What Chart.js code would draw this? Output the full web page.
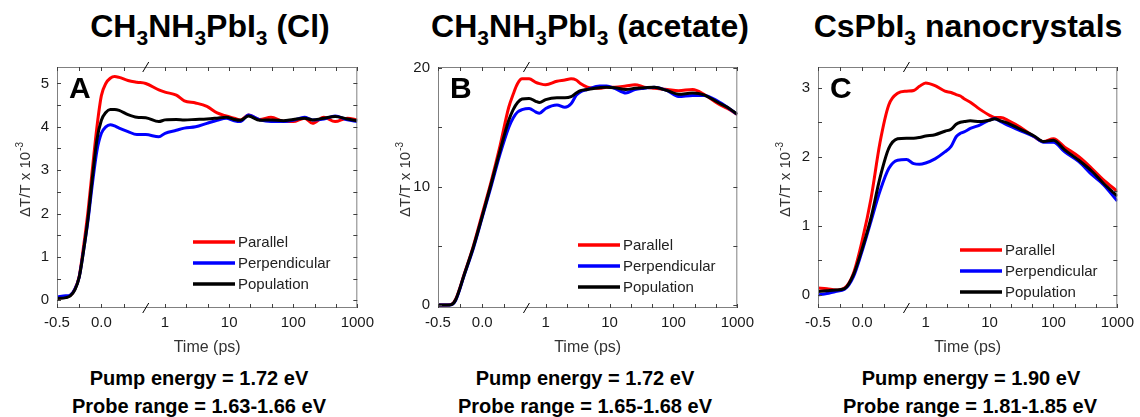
<!DOCTYPE html>
<html>
<head>
<meta charset="utf-8">
<script src="https://cdn.jsdelivr.net/npm/chart.js@4.4.1/dist/chart.umd.min.js"></script>
<style>
  body { margin: 0; background: #fff; width: 1140px; height: 417px; position: relative; overflow: hidden;
         font-family: "Liberation Sans", Arial, sans-serif; }
  .panel { position: absolute; top: 50px; }
  .title { position: absolute; top: 10px; font-weight: bold; font-size: 32px; line-height: 32px; color: #000;
           white-space: nowrap; transform: translateX(-50%); }
  .title sub { font-size: 21px; vertical-align: -8px; line-height: 0; }
  .note { position: absolute; font-weight: bold; font-size: 20px; line-height: 22px; color: #000;
          white-space: nowrap; transform: translateX(-50%); }
</style>
</head>
<body>

<div class="title" style="left:210px">CH<sub>3</sub>NH<sub>3</sub>PbI<sub>3</sub> (Cl)</div>
<div class="title" style="left:590px">CH<sub>3</sub>NH<sub>3</sub>PbI<sub>3</sub> (acetate)</div>
<div class="title" style="left:968px">CsPbI<sub>3</sub> nanocrystals</div>

<canvas id="chartA" class="panel" style="left:0px" width="380" height="310"></canvas>
<canvas id="chartB" class="panel" style="left:380px" width="380" height="310"></canvas>
<canvas id="chartC" class="panel" style="left:760px" width="380" height="310"></canvas>

<div class="note" style="left:199px;top:367px">Pump energy = 1.72 eV</div>
<div class="note" style="left:199px;top:395px">Probe range = 1.63-1.66 eV</div>
<div class="note" style="left:585px;top:367px">Pump energy = 1.72 eV</div>
<div class="note" style="left:585px;top:395px">Probe range = 1.65-1.68 eV</div>
<div class="note" style="left:971px;top:367px">Pump energy = 1.90 eV</div>
<div class="note" style="left:970px;top:395px">Probe range = 1.81-1.85 eV</div>

<script>
// legenda e cores das series
const seriesLabels = ['Parallel', 'Perpendicular', 'Population'];
const seriesColors = ['#ff0000', '#0000ff', '#000000'];
const yLabelMain = 'ΔT/T x 10';
const yLabelSup = '-3';

// eixo x: linear ate 0.5 ps, depois log ate 1000 ps
const breakTime = 0.5;
const xTickTimes = [-0.5, 0, 1, 10, 100, 1000];
const xTickLabels = ['-0.5', '0.0', '1', '10', '100', '1000'];
const xMinorTimes = [-0.25, 0.25, 2.154, 4.642, 21.54, 46.42, 215.4, 464.2];

// painel A - CH3NH3PbI3 (Cl)
const timeA = [-0.5, -0.4, -0.35, -0.3, -0.25, -0.2, -0.15, -0.1, -0.05, 0, 0.05, 0.1, 0.15, 0.2, 0.3, 0.4, 0.5,
  0.8, 1, 1.5, 2, 3, 4.5, 6.5, 9, 12, 15, 20, 30, 45, 70, 100, 150, 200, 300, 450, 700, 1000];
const parallelA = [0.04, 0.07, 0.11, 0.25, 0.55, 1.25, 2.06, 3.05, 4.0, 4.72, 5.0, 5.12, 5.16, 5.14, 5.07, 5.03, 5.0,
  4.85, 4.8, 4.73, 4.6, 4.55, 4.47, 4.32, 4.25, 4.2, 4.16, 4.27, 4.17, 4.22, 4.13, 4.12, 4.2, 4.08, 4.22, 4.12, 4.2, 4.16];
const perpendicularA = [0.08, 0.1, 0.12, 0.25, 0.53, 1.15, 1.85, 2.7, 3.45, 3.85, 4.0, 4.05, 4.02, 3.97, 3.89, 3.82, 3.82,
  3.77, 3.85, 3.92, 3.97, 4.0, 4.08, 4.15, 4.2, 4.14, 4.12, 4.27, 4.16, 4.12, 4.12, 4.15, 4.22, 4.16, 4.18, 4.25, 4.16, 4.12];
const populationA = [0.04, 0.06, 0.1, 0.23, 0.53, 1.15, 1.9, 2.85, 3.7, 4.15, 4.33, 4.4, 4.4, 4.38, 4.28, 4.22, 4.21,
  4.12, 4.16, 4.17, 4.16, 4.17, 4.18, 4.2, 4.22, 4.17, 4.15, 4.25, 4.15, 4.16, 4.14, 4.17, 4.2, 4.16, 4.2, 4.24, 4.18, 4.14];
const yTicksA = [0, 1, 2, 3, 4, 5];
const yMinorA = [0.5, 1.5, 2.5, 3.5, 4.5];

// painel B - CH3NH3PbI3 (acetate)
const timeB = [-0.5, -0.4, -0.35, -0.3, -0.2, -0.1, 0, 0.1, 0.2, 0.3, 0.35, 0.4, 0.45, 0.55, 0.7, 0.8, 1, 1.5, 2, 2.5,
  3, 3.5, 4.5, 7, 9, 12, 18, 25, 35, 50, 80, 120, 200, 300, 500, 700, 1000];
const parallelB = [0, 0, 0.05, 0.5, 2.7, 5.0, 7.7, 10.4, 13.4, 16.7, 17.8, 18.7, 19.1, 19.1, 18.8, 18.7, 18.6, 18.9, 19.0, 19.1,
  19.0, 18.7, 18.4, 18.3, 18.4, 18.4, 18.5, 18.6, 18.4, 18.3, 18.2, 18.1, 18.2, 17.8, 17.0, 16.6, 16.1];
const perpendicularB = [0, 0, 0.03, 0.4, 2.6, 4.8, 7.4, 10.0, 12.7, 15.0, 15.8, 16.3, 16.5, 16.6, 16.3, 16.2, 16.6, 16.9, 16.7, 17.0,
  17.7, 18.0, 18.2, 18.5, 18.5, 18.3, 17.9, 18.2, 18.3, 18.4, 18.1, 17.6, 17.7, 17.7, 17.2, 16.7, 16.1];
const populationB = [0, 0, 0.04, 0.45, 2.65, 4.9, 7.5, 10.2, 13.0, 15.6, 16.5, 17.1, 17.4, 17.45, 17.2, 17.1, 17.35, 17.5, 17.5, 17.6,
  17.9, 18.1, 18.2, 18.35, 18.4, 18.35, 18.2, 18.3, 18.35, 18.4, 18.1, 17.8, 17.9, 17.75, 17.1, 16.7, 16.1];
const yTicksB = [0, 10, 20];
const yMinorB = [5, 15];

// painel C - CsPbI3 nanocrystals
const timeC = [-0.5, -0.4, -0.3, -0.2, -0.1, 0, 0.1, 0.2, 0.3, 0.4, 0.5, 0.65, 0.8, 1, 1.4, 2, 2.5, 3, 3.5, 4, 5, 7, 10,
  12, 15, 20, 30, 50, 70, 100, 150, 250, 400, 600, 1000];
const parallelC = [0.1, 0.09, 0.07, 0.1, 0.31, 0.79, 1.4, 2.2, 2.75, 2.92, 2.95, 2.96, 3.02, 3.07, 3.03, 2.95, 2.93, 2.9, 2.88,
  2.84, 2.79, 2.69, 2.6, 2.57, 2.57, 2.52, 2.43, 2.29, 2.22, 2.26, 2.14, 2.0, 1.83, 1.67, 1.5];
const perpendicularC = [0.0, 0.02, 0.05, 0.08, 0.26, 0.64, 1.07, 1.5, 1.83, 1.95, 1.96, 1.9, 1.89, 1.91, 1.97, 2.07, 2.15, 2.29,
  2.34, 2.36, 2.41, 2.46, 2.53, 2.55, 2.51, 2.45, 2.38, 2.29, 2.21, 2.21, 2.07, 1.93, 1.74, 1.6, 1.36];
const populationC = [0.05, 0.06, 0.07, 0.09, 0.29, 0.67, 1.12, 1.69, 2.12, 2.26, 2.27, 2.27, 2.28, 2.3, 2.32, 2.37, 2.4, 2.47,
  2.5, 2.51, 2.52, 2.51, 2.53, 2.55, 2.52, 2.48, 2.4, 2.3, 2.22, 2.24, 2.1, 1.95, 1.79, 1.62, 1.43];
const yTicksC = [0, 1, 2, 3];
const yMinorC = [0.5, 1.5, 2.5];

// converte tempo (ps) para a coordenada do eixo quebrado
const logScale = 195 / 270;
function toAxis(t) {
  if (t <= breakTime) return t;
  return breakTime + Math.log10(t / breakTime) * logScale;
}

// moldura, ticks para dentro, marca de quebra, legenda, letra e titulo do eixo y
const panelDecor = {
  id: 'panelDecor',
  afterDatasetsDraw(chart, args, opts) {
    const { ctx, chartArea: a, scales: { x, y } } = chart;
    ctx.save();
    ctx.strokeStyle = '#808080';
    ctx.lineWidth = 1;
    ctx.strokeRect(a.left + 0.5, a.top + 0.5, a.width - 1, a.height - 1);

    ctx.strokeStyle = '#404040';
    ctx.beginPath();
    for (const t of xTickTimes.concat(xMinorTimes)) {
      const px = Math.round(x.getPixelForValue(toAxis(t))) + 0.5;
      ctx.moveTo(px, a.bottom); ctx.lineTo(px, a.bottom - 4);
      ctx.moveTo(px, a.top); ctx.lineTo(px, a.top + 4);
    }
    for (const v of opts.yMarks) {
      const py = Math.round(y.getPixelForValue(v)) + 0.5;
      ctx.moveTo(a.left, py); ctx.lineTo(a.left + 4, py);
      ctx.moveTo(a.right, py); ctx.lineTo(a.right - 4, py);
    }
    ctx.stroke();

    // quebra do eixo
    const bx = x.getPixelForValue(toAxis(breakTime));
    ctx.strokeStyle = '#000';
    ctx.beginPath();
    for (const by of [a.top, a.bottom]) {
      ctx.moveTo(bx - 3, by + 5);
      ctx.lineTo(bx + 3, by - 5);
    }
    ctx.stroke();

    // legenda
    ctx.font = '15px "Liberation Sans", Arial, sans-serif';
    ctx.textBaseline = 'middle';
    seriesLabels.forEach((label, i) => {
      const ly = a.top + opts.legendY + i * 21;
      const lx = a.left + opts.legendX;
      ctx.strokeStyle = seriesColors[i];
      ctx.lineWidth = 3.5;
      ctx.beginPath();
      ctx.moveTo(lx, ly); ctx.lineTo(lx + 42, ly);
      ctx.stroke();
      ctx.fillStyle = '#222';
      ctx.fillText(label, lx + 45, ly + 1);
    });

    // letra do painel
    ctx.font = 'bold 30px "Liberation Sans", Arial, sans-serif';
    ctx.textBaseline = 'alphabetic';
    ctx.fillStyle = '#000';
    ctx.fillText(opts.letter, a.left + 12, a.top + 31);

    // titulo do eixo y com expoente
    ctx.translate(25, a.top + a.height / 2 - 8);
    ctx.rotate(-Math.PI / 2);
    ctx.fillStyle = '#333';
    ctx.font = '15px "Liberation Sans", Arial, sans-serif';
    const wMain = ctx.measureText(yLabelMain).width;
    ctx.font = '10px "Liberation Sans", Arial, sans-serif';
    const wSup = ctx.measureText(yLabelSup).width;
    const x0 = -(wMain + wSup + 1) / 2;
    ctx.font = '15px "Liberation Sans", Arial, sans-serif';
    ctx.fillText(yLabelMain, x0, 5);
    ctx.font = '10px "Liberation Sans", Arial, sans-serif';
    ctx.fillText(yLabelSup, x0 + wMain + 1, -2);
    ctx.restore();
  }
};

function makeChart(id, times, seriesList, yMin, yMax, yTicks, yMinor, yWidth, rightPad, decor) {
  const datasets = seriesList.map((values, i) => ({
    label: seriesLabels[i],
    data: times.map((t, k) => ({ x: toAxis(t), y: values[k] })),
    borderColor: seriesColors[i],
    borderWidth: 3,
    pointRadius: 0,
    cubicInterpolationMode: 'monotone',
    order: 3 - i,
  }));

  return new Chart(document.getElementById(id), {
    type: 'line',
    data: { datasets },
    options: {
      responsive: false,
      animation: false,
      devicePixelRatio: 1,
      layout: { padding: { top: 15, right: rightPad, left: 0, bottom: 0 } },
      plugins: {
        legend: { display: false },
        tooltip: { enabled: false },
        panelDecor: Object.assign({ yMarks: yTicks.concat(yMinor) }, decor),
      },
      scales: {
        x: {
          type: 'linear',
          min: toAxis(-0.5),
          max: toAxis(1000),
          grid: { display: false, drawTicks: false },
          border: { display: false },
          afterBuildTicks: (s) => { s.ticks = xTickTimes.map((t) => ({ value: toAxis(t) })); },
          afterFit: (s) => { s.height = 52; },
          ticks: {
            autoSkip: false, maxRotation: 0, padding: 6, color: '#1a1a1a',
            font: { family: '"Liberation Sans", Arial, sans-serif', size: 15 },
            callback: (value, index) => xTickLabels[index],
          },
          title: {
            display: true, text: 'Time (ps)', color: '#333',
            font: { family: '"Liberation Sans", Arial, sans-serif', size: 16 },
            padding: { top: 0, bottom: 3 },
          },
        },
        y: {
          type: 'linear',
          min: yMin,
          max: yMax,
          grid: { display: false, drawTicks: false },
          border: { display: false },
          afterBuildTicks: (s) => { s.ticks = yTicks.map((v) => ({ value: v })); },
          afterFit: (s) => { s.width = yWidth; },
          ticks: {
            padding: 8, color: '#1a1a1a',
            font: { family: '"Liberation Sans", Arial, sans-serif', size: 15 },
          },
        },
      },
    },
    plugins: [panelDecor],
  });
}

makeChart('chartA', timeA, [parallelA, perpendicularA, populationA], -0.18, 5.38, yTicksA, yMinorA, 57, 20,
  { letter: 'A', legendX: 136, legendY: 175 });
makeChart('chartB', timeB, [parallelB, perpendicularB, populationB], -0.25, 20.1, yTicksB, yMinorB, 58, 18,
  { letter: 'B', legendX: 140, legendY: 178 });
makeChart('chartC', timeC, [parallelC, perpendicularC, populationC], -0.19, 3.3, yTicksC, yMinorC, 58, 19,
  { letter: 'C', legendX: 142, legendY: 183 });
</script>
</body>
</html>
